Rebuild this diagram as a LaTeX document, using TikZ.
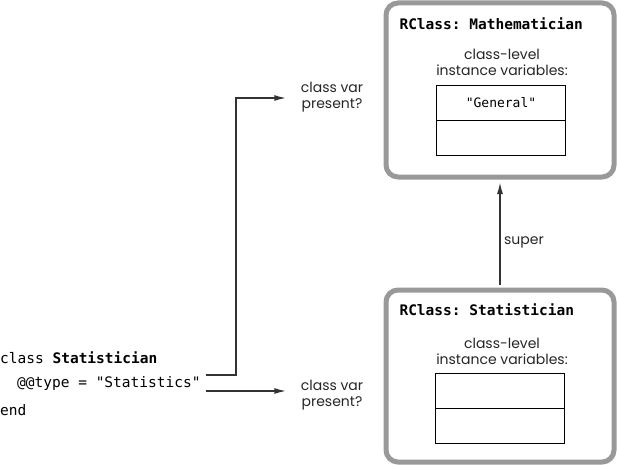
\documentclass[tikz,border=0pt]{standalone}
\usepackage{fontspec}
\setmainfont{Poppins}
\setmonofont{DejaVu Sans Mono}
\usetikzlibrary{positioning,arrows.meta}
\definecolor{boxgray}{HTML}{999999}
\definecolor{linegray}{HTML}{333333}
\tikzset{
  rclass/.style={draw=boxgray,line width=5pt,rounded corners=12pt,minimum width=228pt},
  slot/.style={draw=black,line width=1.5pt,minimum width=129pt,minimum height=35pt,inner sep=0pt},
  title/.style={anchor=west,font=\fontsize{14.5}{16}\selectfont\ttfamily\bfseries},
  code/.style={anchor=west,font=\fontsize{14.5}{16}\selectfont\ttfamily},
  note/.style={align=center,font=\fontsize{14}{16}\selectfont,text=black!85},
  link/.style={draw=linegray,line width=1.6pt}
}
\begin{document}
\begin{tikzpicture}[x=1pt,y=-1pt,>={Latex[length=12pt,width=6pt]}]
\useasboundingbox (0,0) rectangle (617,465);
% boxes for the two classes
\node[rclass,minimum height=174pt] (math) at (500,90) {};
\node[rclass,minimum height=172pt] (stat) at (500,376) {};

\node[title] (mathname) at (396,24) {RClass: Mathematician};
\node[note] (mathvars) at (502,62) {class-level\\instance variables:};
\node[slot] (mathslot1) at (501,103) {\fontsize{13}{15}\selectfont\ttfamily "General"};
\node[slot,below=-1.5pt of mathslot1] (mathslot2) {};

\node[title] (statname) at (396,310) {RClass: Statistician};
\node[note] (statvars) at (502,351) {class-level\\instance variables:};
\node[slot] (statslot1) at (500,391) {};
\node[slot,below=-1.5pt of statslot1] (statslot2) {};

% the ruby code
\node[code,inner sep=0pt] (cls) at (0,358) {class \textbf{Statistician}};
\node[code,inner sep=0pt] (type) at (17,383) {@@type = "Statistics"};
\node[code,inner sep=0pt] (end) at (0,410) {end};

\node[note] (ask1) at (332,97) {class var\\present?};
\node[note] (ask2) at (332,395) {class var\\present?};

\path[link,->] ([shift={(5,-8)}]type.east) -- ++(30,0) |- ([xshift=-11pt,yshift=-1pt]ask1.west);
\path[link,->] ([shift={(5,8)}]type.east) -- ([xshift=-11pt,yshift=4pt]ask2.west);
\path[link,->,shorten <=2.5pt,shorten >=2.5pt] (stat.north) -- node[pos=0.42,right,note]{super} (math.south);
\end{tikzpicture}
\end{document}
